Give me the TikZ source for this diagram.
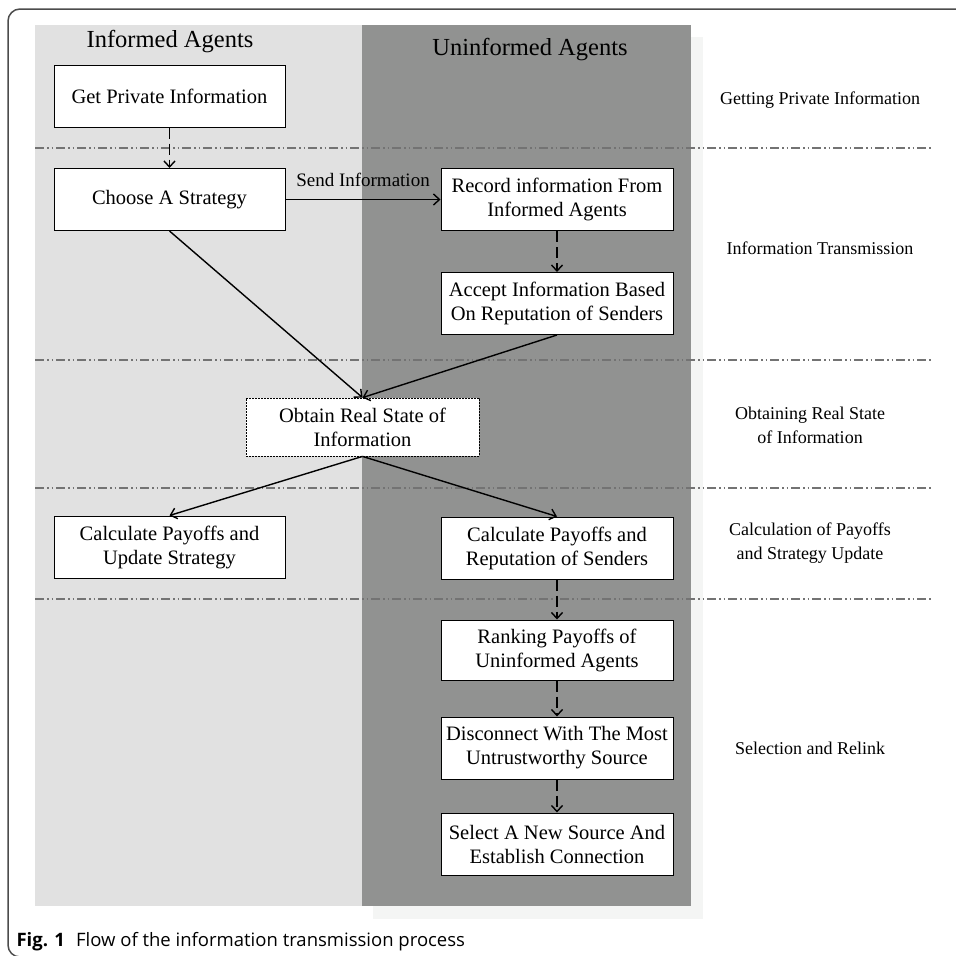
\documentclass[tikz,border=0pt]{standalone}
\usepackage{fontspec}
\setmainfont{Liberation Serif}
\newfontfamily\capfont{Open Sans}
\usetikzlibrary{arrows.meta}
\definecolor{vlight}{HTML}{F4F5F4}
\definecolor{lgray}{HTML}{E1E1E1}
\definecolor{dgray}{HTML}{919291}
\begin{document}
\begin{tikzpicture}[x=1pt,y=-1pt,
 box/.style={draw=black,line width=1pt,fill=white,minimum width=231pt,minimum height=62pt,align=center,inner sep=2pt,font=\fontsize{20.5}{24}\selectfont},
 sepline/.style={draw=black!55,line width=1.1pt,dash pattern=on 9pt off 3pt on 1.5pt off 3pt on 1.5pt off 3pt},
 arr/.style={line width=1.4pt,-{Straight Barb[length=6pt,width=11pt]}},
 darr/.style={arr,dash pattern=on 11pt off 5pt},
 lbl/.style={font=\fontsize{18}{24}\selectfont,align=center},
 ttl/.style={font=\fontsize{24.5}{28}\selectfont}]
\useasboundingbox (0,0) rectangle (956,956);
\clip (0,0) rectangle (956,956);
\draw[black!70,line width=1.5pt,rounded corners=12pt] (8,9) rectangle (1000,957);
\fill[vlight] (373,37) rectangle (703,919);
\fill[lgray] (35,25) rectangle (362,906);
\fill[dgray] (362,25) rectangle (691,906);
\foreach \yy in {148,360,488,599} \draw[sepline] (35,\yy) -- (932,\yy);
\node[ttl] (t1) at (170,42) {Informed Agents};
\node[ttl] (t2) at (530,50) {Uninformed Agents};
\node[box] (gpi) at (169.5,96) {Get Private Information};
\node[box] (cas) at (169.5,199.5) {Choose A Strategy};
\node[box,minimum width=232pt] (rec) at (557,199.5) {Record information From\\Informed Agents};
\node[box,minimum width=232pt] (acc) at (557,303.5) {Accept Information Based\\On Reputation of Senders};
\node[box,minimum width=233pt,minimum height=58pt,line width=0.8pt,dash pattern=on 2pt off 1pt] (obt) at (362.5,427) {Obtain Real State of\\Information};
\node[box] (cpu) at (169.5,547) {Calculate Payoffs and\\Update Strategy};
\node[box,minimum width=232pt] (cpr) at (557,548) {Calculate Payoffs and\\Reputation of Senders};
\node[box,minimum width=232pt,minimum height=60pt] (rank) at (557,650) {Ranking Payoffs of\\Uninformed Agents};
\node[box,minimum width=232pt] (disc) at (557,748) {Disconnect With The Most\\Untrustworthy Source};
\node[box,minimum width=232pt] (sel) at (557,844) {Select A New Source And\\Establish Connection};
\node[lbl] (l1) at (820,100) {Getting Private Information};
\node[lbl] (l2) at (820,248) {Information Transmission};
\node[lbl] (l3) at (810,425) {Obtaining Real State\\of Information};
\node[lbl] (l4) at (810,543) {Calculation of Payoffs\\and Strategy Update};
\node[lbl] (l5) at (810,748) {Selection and Relink};
\node[font=\fontsize{19}{22}\selectfont] (send) at (363,180) {Send Information};
\draw[darr] (gpi) -- (cas);
\draw[arr] (cas) -- (rec);
\draw[darr] (rec) -- (acc);
\draw[arr] (cas.south) -- (obt.north);
\draw[arr] (acc.south) -- (obt.north);
\draw[arr] (obt.south) -- (cpu.north);
\draw[arr] (obt.south) -- (cpr.north);
\draw[darr] (cpr) -- (rank);
\draw[darr] (rank) -- (disc);
\draw[darr] (disc) -- (sel);
\node[anchor=west,font=\fontsize{18.5}{22}\selectfont\capfont] (cap) at (13,942) {\textbf{Fig. 1}\hspace{0.6em}Flow of the information transmission process};
\end{tikzpicture}
\end{document}
